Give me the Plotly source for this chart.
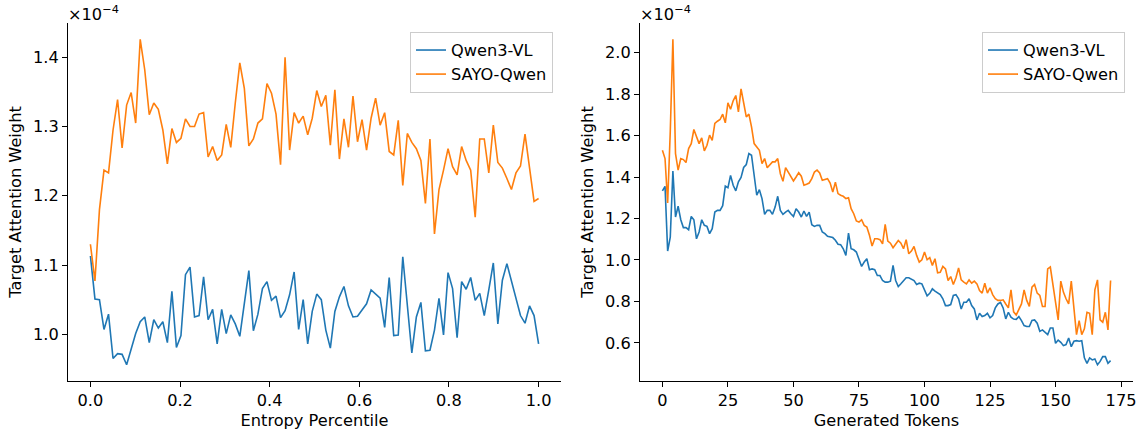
import numpy as np
import plotly.graph_objects as go

# ---------------- data (values in units of 1e-4) ----------------
entropy_orange = [1.130, 1.077, 1.180, 1.237, 1.233, 1.295, 1.339, 1.269, 1.331, 1.349,
                  1.305, 1.426, 1.382, 1.317, 1.334, 1.325, 1.295, 1.246, 1.297, 1.277,
                  1.283, 1.311, 1.300, 1.300, 1.318, 1.320, 1.256, 1.271, 1.251, 1.259,
                  1.303, 1.270, 1.334, 1.392, 1.355, 1.272, 1.282, 1.305, 1.311, 1.362,
                  1.348, 1.318, 1.245, 1.400, 1.266, 1.320, 1.305, 1.315, 1.288, 1.312,
                  1.352, 1.329, 1.345, 1.273, 1.353, 1.253, 1.311, 1.270, 1.344, 1.278,
                  1.310, 1.266, 1.312, 1.341, 1.302, 1.320, 1.264, 1.259, 1.309, 1.215,
                  1.290, 1.277, 1.268, 1.251, 1.189, 1.282, 1.145, 1.209, 1.237, 1.268,
                  1.242, 1.230, 1.271, 1.251, 1.237, 1.169, 1.282, 1.282, 1.233, 1.302,
                  1.248, 1.240, 1.225, 1.209, 1.233, 1.243, 1.289, 1.237, 1.192, 1.196]

entropy_blue = [1.113, 1.051, 1.050, 1.007, 1.029, 0.965, 0.972, 0.971, 0.956, 0.979,
                1.001, 1.018, 1.025, 0.988, 1.021, 1.009, 1.018, 0.988, 1.062, 0.981,
                0.998, 1.086, 1.097, 1.025, 1.027, 1.083, 1.021, 1.036, 0.986, 1.036,
                1.001, 1.028, 1.015, 0.997, 1.045, 1.092, 1.005, 1.029, 1.066, 1.076,
                1.049, 1.055, 1.024, 1.034, 1.057, 1.090, 1.007, 1.050, 0.986, 1.033,
                1.058, 1.050, 1.006, 0.980, 1.033, 1.054, 1.069, 1.041, 1.025, 1.026,
                1.035, 1.044, 1.064, 1.058, 1.052, 1.010, 1.082, 0.998, 0.999, 1.112,
                1.040, 0.973, 1.025, 1.046, 0.976, 0.977, 1.006, 1.052, 0.999, 1.089,
                1.066, 0.995, 1.076, 1.065, 1.082, 1.049, 1.059, 1.027, 1.064, 1.103,
                1.015, 1.078, 1.102, 1.076, 1.054, 1.027, 1.016, 1.041, 1.027, 0.986]

token_orange = [1.529, 1.489, 1.275, 1.620, 2.064, 1.513, 1.433, 1.489, 1.484, 1.470,
                1.537, 1.561, 1.629, 1.597, 1.561, 1.589, 1.526, 1.553, 1.602, 1.577,
                1.658, 1.669, 1.677, 1.703, 1.661, 1.758, 1.727, 1.767, 1.793, 1.714,
                1.825, 1.758, 1.690, 1.703, 1.642, 1.561, 1.542, 1.529, 1.465, 1.489,
                1.445, 1.457, 1.473, 1.473, 1.489, 1.416, 1.379, 1.445, 1.424, 1.400,
                1.381, 1.400, 1.421, 1.404, 1.360, 1.365, 1.371, 1.392, 1.424, 1.433,
                1.420, 1.384, 1.387, 1.392, 1.371, 1.328, 1.375, 1.320, 1.312, 1.307,
                1.296, 1.300, 1.247, 1.223, 1.188, 1.183, 1.194, 1.167, 1.159, 1.119,
                1.067, 1.102, 1.102, 1.098, 1.078, 1.172, 1.091, 1.081, 1.059, 1.075,
                1.094, 1.081, 1.054, 1.098, 1.030, 1.043, 1.065, 1.022, 0.990, 1.001,
                1.038, 1.001, 1.011, 0.974, 1.006, 0.938, 0.941, 0.969, 0.957, 0.901,
                0.920, 0.882, 0.914, 0.962, 0.904, 0.893, 0.885, 0.904, 0.888, 0.898,
                0.885, 0.853, 0.840, 0.888, 0.840, 0.866, 0.833, 0.813, 0.805, 0.805,
                0.808, 0.788, 0.769, 0.856, 0.750, 0.735, 0.760, 0.788, 0.856, 0.805,
                0.776, 0.869, 0.882, 0.840, 0.829, 0.776, 0.776, 0.957, 0.966, 0.885,
                0.796, 0.711, 0.898, 0.845, 0.813, 0.788, 0.898, 0.759, 0.640, 0.708,
                0.640, 0.668, 0.748, 0.743, 0.640, 0.856, 0.904, 0.711, 0.700, 0.748,
                0.663, 0.901]

token_blue = [1.333, 1.355, 1.043, 1.110, 1.429, 1.207, 1.259, 1.194, 1.156, 1.156,
              1.146, 1.210, 1.194, 1.102, 1.135, 1.194, 1.167, 1.162, 1.127, 1.151,
              1.231, 1.239, 1.239, 1.262, 1.356, 1.348, 1.408, 1.360, 1.333, 1.377,
              1.398, 1.446, 1.460, 1.513, 1.505, 1.400, 1.312, 1.339, 1.296, 1.220,
              1.239, 1.239, 1.220, 1.255, 1.307, 1.239, 1.220, 1.231, 1.239, 1.223,
              1.210, 1.247, 1.231, 1.207, 1.236, 1.210, 1.231, 1.170, 1.162, 1.167,
              1.167, 1.135, 1.127, 1.114, 1.111, 1.108, 1.095, 1.076, 1.074, 1.054,
              1.022, 1.130, 1.054, 1.049, 1.038, 1.006, 0.969, 0.990, 1.006, 0.953,
              0.957, 0.953, 0.925, 0.925, 0.901, 0.893, 0.893, 0.898, 0.974, 0.901,
              0.872, 0.885, 0.898, 0.914, 0.914, 0.909, 0.901, 0.882, 0.888, 0.885,
              0.852, 0.827, 0.839, 0.861, 0.850, 0.840, 0.833, 0.813, 0.780, 0.780,
              0.785, 0.829, 0.833, 0.813, 0.764, 0.796, 0.796, 0.813, 0.780, 0.764,
              0.711, 0.743, 0.727, 0.732, 0.743, 0.721, 0.732, 0.769, 0.788, 0.796,
              0.769, 0.716, 0.748, 0.724, 0.715, 0.714, 0.727, 0.708, 0.684, 0.679,
              0.679, 0.708, 0.711, 0.695, 0.656, 0.663, 0.652, 0.640, 0.672, 0.672,
              0.598, 0.614, 0.603, 0.587, 0.592, 0.624, 0.582, 0.608, 0.611, 0.608,
              0.611, 0.528, 0.502, 0.528, 0.518, 0.523, 0.495, 0.511, 0.534, 0.534,
              0.502, 0.515]

entropy_x = np.linspace(0, 1, len(entropy_blue))
token_x = list(range(len(token_blue)))

series_names = ["Qwen3-VL", "SAYO-Qwen"]
colors = ["#1f77b4", "#ff7f0e"]

left_yticks = [1.0, 1.1, 1.2, 1.3, 1.4]
left_xticks = [0.0, 0.2, 0.4, 0.6, 0.8, 1.0]
right_yticks = [0.6, 0.8, 1.0, 1.2, 1.4, 1.6, 1.8, 2.0]
right_xticks = [0, 25, 50, 75, 100, 125, 150, 175]

# ---------------- figure ----------------
FONT = "DejaVu Sans"
FS = 16.2


def pad_range(vals, frac=0.05):
    lo, hi = min(vals), max(vals)
    d = (hi - lo) * frac
    return [lo - d, hi + d]


fig = go.Figure()

for name, col, ys in zip(series_names, colors, [entropy_blue, entropy_orange]):
    fig.add_trace(go.Scatter(x=entropy_x, y=ys, mode="lines", name=name,
                             line=dict(color=col, width=1.6),
                             xaxis="x", yaxis="y", legend="legend"))
for name, col, ys in zip(series_names, colors, [token_blue, token_orange]):
    fig.add_trace(go.Scatter(x=token_x, y=ys, mode="lines", name=name,
                             line=dict(color=col, width=1.6),
                             xaxis="x2", yaxis="y2", legend="legend2"))

W, H = 1141, 435
ml, mr, mt, mb = 68, 8, 23, 54
pw = W - ml - mr
ph = H - mt - mb
left_dom = [0, (561 - ml) / pw]
right_dom = [(640 - ml) / pw, 1]

axis_common = dict(showline=True, linecolor="black", linewidth=1, ticks="outside",
                   ticklen=5, tickwidth=1, tickcolor="black", showgrid=False,
                   zeroline=False, mirror=False, automargin=False,
                   tickfont=dict(family=FONT, size=FS, color="black"),
                   title_font=dict(family=FONT, size=FS, color="black"))

fig.update_layout(
    width=W, height=H,
    margin=dict(l=ml, r=mr, t=mt, b=mb, autoexpand=False),
    plot_bgcolor="white", paper_bgcolor="white",
    font=dict(family=FONT, size=FS, color="black"),
    xaxis=dict(domain=left_dom, range=pad_range(list(entropy_x)),
               tickvals=left_xticks, tickformat=".1f",
               title=dict(text="Entropy Percentile", standoff=5), anchor="y", **axis_common),
    yaxis=dict(domain=[0, 1], range=pad_range(entropy_blue + entropy_orange),
               tickvals=left_yticks, tickformat=".1f",
               title=dict(text="Target Attention Weight", standoff=7), anchor="x", **axis_common),
    xaxis2=dict(domain=right_dom, range=pad_range(token_x),
                tickvals=right_xticks,
                title=dict(text="Generated Tokens", standoff=5), anchor="y2", **axis_common),
    yaxis2=dict(domain=[0, 1], range=pad_range(token_blue + token_orange),
                tickvals=right_yticks, tickformat=".1f",
                title=dict(text="Target Attention Weight", standoff=7), anchor="x2", **axis_common),
    legend=dict(x=(553 - ml) / pw, y=1 - (32 - mt) / ph,
                xanchor="right", yanchor="top", bgcolor="white",
                bordercolor="#cccccc", borderwidth=1, itemwidth=30,
                font=dict(family=FONT, size=FS, color="black"), tracegroupgap=0),
    legend2=dict(x=(1125 - ml) / pw, y=1 - (32 - mt) / ph,
                 xanchor="right", yanchor="top", bgcolor="white",
                 bordercolor="#cccccc", borderwidth=1, itemwidth=30,
                 font=dict(family=FONT, size=FS, color="black"), tracegroupgap=0),
    showlegend=True,
)

for xr, yr in [("x", "y"), ("x2", "y2")]:
    fig.add_annotation(text="×10<sup>−4</sup>", xref=f"{xr} domain", yref=f"{yr} domain",
                       x=0, y=1, xanchor="left", yanchor="bottom", showarrow=False,
                       font=dict(family=FONT, size=FS, color="black"), xshift=-2, yshift=-3)

fig.write_html("out.html", config={"displayModeBar": False},
               post_script="document.body.style.margin='0px';document.body.style.padding='0px';")
